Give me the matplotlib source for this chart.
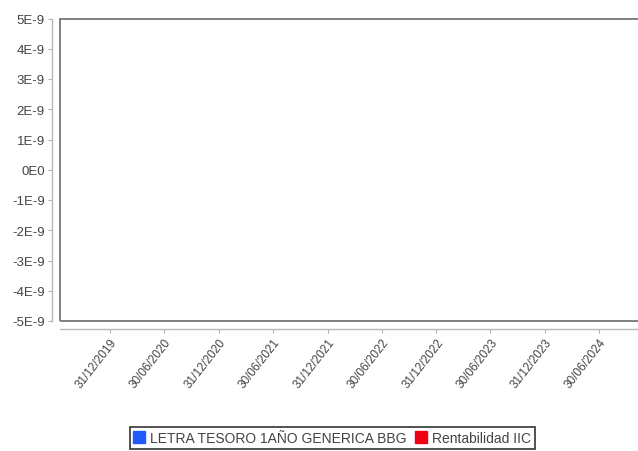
import datetime
import numpy as np
import matplotlib
matplotlib.use('Agg')
import matplotlib.pyplot as plt
import matplotlib.dates as mdates
from matplotlib.patches import Rectangle
from matplotlib.lines import Line2D

# series in the chart (no data points visible)
series_names = ['LETRA TESORO 1AÑO GENERICA BBG', 'Rentabilidad IIC']
series_colors = ['#1f5cff', '#f00010']

# y axis ticks
y_ticks = [5e-9, 4e-9, 3e-9, 2e-9, 1e-9, 0.0, -1e-9, -2e-9, -3e-9, -4e-9, -5e-9]
y_labels = ['5E-9', '4E-9', '3E-9', '2E-9', '1E-9', '0E0',
            '-1E-9', '-2E-9', '-3E-9', '-4E-9', '-5E-9']

# x axis ticks
x_labels = ['31/12/2019', '30/06/2020', '31/12/2020', '30/06/2021', '31/12/2021',
            '30/06/2022', '31/12/2022', '30/06/2023', '31/12/2023', '30/06/2024']
x_start = '16/07/2019'
x_end = '07/11/2024'

plt.rcParams['font.family'] = ['Liberation Sans', 'DejaVu Sans']

fig = plt.figure(figsize=(6.38, 4.52), dpi=100)
ax = fig.add_axes([60/638, 1-322/452, 578/638, (322-19.5)/452])

# spines first: set_position resets the ticks
for side in ['top', 'right']:
    ax.spines[side].set_visible(False)
ax.spines['left'].set_position(('outward', 6))
ax.spines['bottom'].set_position(('outward', 6))
for side in ['left', 'bottom']:
    ax.spines[side].set_color('#b8b8b8')
    ax.spines[side].set_linewidth(1.0)

to_num = lambda s: mdates.date2num(datetime.datetime.strptime(s, '%d/%m/%Y'))
xt = [to_num(s) for s in x_labels]
ax.set_xlim(to_num(x_start), to_num(x_end))
ax.set_ylim(min(y_ticks), max(y_ticks))

txt_col = '#444444'
ax.tick_params(axis='both', colors='#b0b0b0', labelcolor=txt_col, labelsize=9.5, length=3, width=0.8)
ax.tick_params(axis='x', pad=2, labelsize=8.5)
ax.tick_params(axis='y', pad=2)

ax.set_yticks(y_ticks)
ax.set_yticklabels(y_labels)
ax.set_xticks(xt)
ax.set_xticklabels(x_labels)
plt.setp(ax.get_xticklabels(), rotation=52, ha='right', rotation_mode='anchor')

# plot frame
ax.add_patch(Rectangle((0, 0), 1.2, 1, transform=ax.transAxes, fill=False,
                       edgecolor='#808080', linewidth=1.4, clip_on=False))

handles = [Line2D([], [], marker='s', linestyle='none', markersize=8,
                  markerfacecolor=c, markeredgecolor=c) for c in series_colors]
leg = fig.legend(handles, series_names, loc='upper center', bbox_to_anchor=(0.521, 0.053),
                 ncol=2, frameon=True, fancybox=False, fontsize=10, handlelength=0.8,
                 handletextpad=0.4, columnspacing=0.6, borderpad=0.3, borderaxespad=0)
leg.get_frame().set_edgecolor('black')
leg.get_frame().set_linewidth(1.2)
for t in leg.get_texts():
    t.set_color(txt_col)

fig.savefig('out.png', dpi=100)
